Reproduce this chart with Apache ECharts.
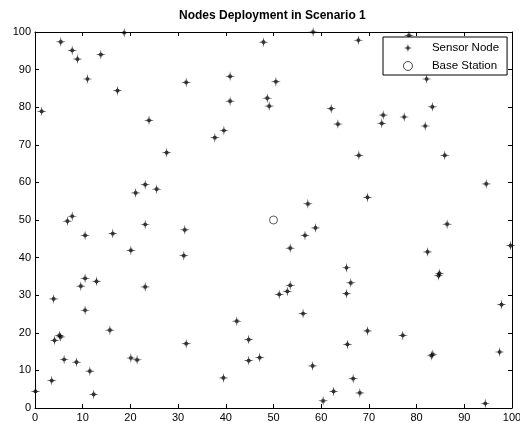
<!DOCTYPE html>
<html>
<head>
<meta charset="utf-8">
<script src="https://cdn.jsdelivr.net/npm/echarts@6/dist/echarts.min.js"></script>
<style>
  html, body { margin: 0; padding: 0; background: #fff; }
  #chart { width: 520px; height: 423px; }
</style>
</head>
<body>
<div id="chart"></div>
<script>
// sensor nodes, [x, y]
var sensorNodes = [
  [1.4, 78.9], [5.4, 97.4], [7.8, 95.1], [8.9, 92.8], [11.0, 87.5], [13.8, 94.0],
  [17.3, 84.4], [18.7, 99.8], [23.9, 76.5], [31.7, 86.6], [47.9, 97.3], [40.9, 88.2],
  [50.5, 86.8], [40.9, 81.6], [48.7, 82.4], [49.1, 80.3], [58.3, 100], [67.8, 97.8],
  [62.1, 79.6], [63.5, 75.5], [39.6, 73.8], [37.7, 71.9], [78.4, 99.1], [82.1, 87.5],
  [83.3, 80.1], [73.0, 77.9], [72.7, 75.7], [77.4, 77.4], [81.8, 75.0], [27.6, 67.9],
  [21.1, 57.2], [23.1, 59.4], [25.5, 58.2], [6.8, 49.7], [7.8, 51.0], [10.5, 45.9],
  [16.3, 46.4], [23.1, 48.8], [31.4, 47.4], [20.1, 41.9], [31.2, 40.5], [10.5, 34.5],
  [9.6, 32.4], [12.9, 33.7], [23.1, 32.2], [67.9, 67.2], [57.2, 54.3], [58.8, 47.9],
  [56.6, 45.9], [53.5, 42.5], [65.3, 37.3], [66.2, 33.3], [53.5, 32.6], [85.9, 67.2],
  [94.6, 59.6], [69.7, 56.0], [86.4, 48.9], [82.3, 41.5], [99.7, 43.2], [84.8, 35.8],
  [84.6, 35.2], [3.9, 29.0], [10.5, 26.0], [15.7, 20.7], [5.1, 19.3], [5.4, 18.9],
  [4.1, 18.0], [6.1, 12.9], [8.7, 12.2], [20.1, 13.3], [21.4, 12.8], [31.7, 17.1],
  [11.5, 9.8], [3.5, 7.3], [0.1, 4.4], [12.3, 3.6], [51.2, 30.2], [52.9, 31.0],
  [65.3, 30.4], [56.2, 25.1], [42.3, 23.1], [44.8, 18.2], [44.8, 12.6], [47.1, 13.4],
  [39.5, 8.0], [65.5, 16.9], [58.2, 11.2], [66.7, 7.8], [62.6, 4.4], [60.4, 1.9],
  [68.1, 4.0], [97.8, 27.5], [69.7, 20.5], [77.1, 19.3], [83.1, 13.9], [83.4, 14.3],
  [97.4, 14.9], [94.4, 1.2]
];
var baseStation = [[50, 50]];

var titleText = 'Nodes Deployment in Scenario 1';
var seriesNames = ['Sensor Node', 'Base Station'];

// asterisk-ish marker: plus arms with a heavier middle, like matlab '*'
var starPath = 'path://M5,0L5.6,3.4L6.6,3.4L6.6,4.4L10,5L6.6,5.6L6.6,6.6L5.6,6.6L5,10L4.4,6.6L3.4,6.6L3.4,5.6L0,5L3.4,4.4L3.4,3.4L4.4,3.4Z';

var font = 'Liberation Sans, Arial, Helvetica, sans-serif';

var chart = echarts.init(document.getElementById('chart'));

function boxAxis(pos, showLabel) {
  return {
    type: 'value',
    position: pos,
    min: 0,
    max: 100,
    interval: 10,
    axisLine: { show: true, onZero: false, lineStyle: { color: '#000', width: 1 } },
    axisTick: { show: true, inside: true, length: 4, lineStyle: { color: '#000' } },
    axisLabel: { show: showLabel, color: '#000', fontSize: 11, fontFamily: font, margin: 4 },
    splitLine: { show: false }
  };
}

chart.setOption({
  animation: false,
  backgroundColor: '#fff',
  title: {
    text: titleText,
    left: 179,
    top: 10,
    padding: 0,
    textStyle: { fontSize: 12, fontWeight: 'bold', color: '#000', fontFamily: font }
  },
  legend: {
    data: [
      { name: seriesNames[0] },
      { name: seriesNames[1], itemStyle: { borderWidth: 0.9, borderColor: '#000', color: '#fff' } }
    ],
    orient: 'vertical',
    left: 383,
    top: 37,
    padding: [5, 8, 3, 20],
    itemGap: 6,
    itemWidth: 12,
    itemHeight: 9,
    backgroundColor: '#fff',
    borderColor: '#000',
    borderWidth: 1,
    borderRadius: 0,
    textStyle: { fontSize: 11.5, color: '#000', fontFamily: font, padding: [0, 0, 0, 13] }
  },
  grid: { left: 35, right: 8, top: 32, bottom: 15, outerBoundsMode: 'none' },
  xAxis: [boxAxis('bottom', true), boxAxis('top', false)],
  yAxis: [boxAxis('left', true), boxAxis('right', false)],
  series: [
    {
      name: seriesNames[0],
      type: 'scatter',
      data: sensorNodes,
      symbol: starPath,
      symbolSize: 10,
      itemStyle: { color: '#000' }
    },
    {
      name: seriesNames[1],
      type: 'scatter',
      data: baseStation,
      symbol: 'circle',
      symbolSize: 8,
      itemStyle: { color: '#fff', borderColor: '#000', borderWidth: 0.8 }
    }
  ]
});
</script>
</body>
</html>
